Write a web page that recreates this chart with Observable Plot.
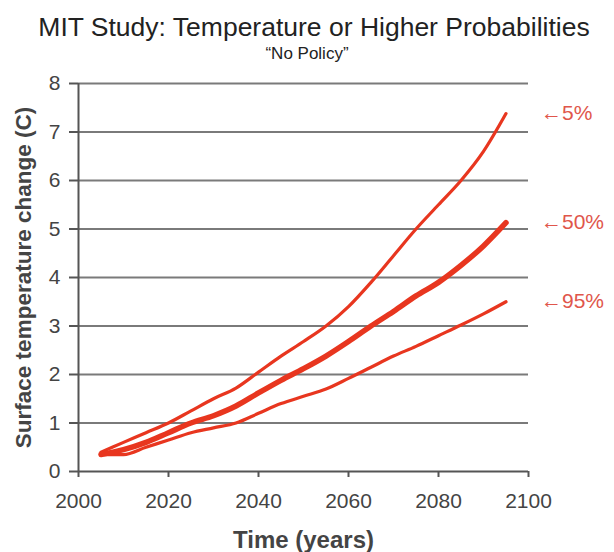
<!DOCTYPE html>
<html>
<head>
<meta charset="utf-8">
<script src="https://cdn.jsdelivr.net/npm/d3@7"></script>
<script src="https://cdn.jsdelivr.net/npm/@observablehq/plot@0.6"></script>
<style>
  html, body { margin: 0; padding: 0; background: #fff; }
  body { width: 614px; height: 552px; overflow: hidden; font-family: "Liberation Sans", Arial, sans-serif; }
  #title { height: 40px; line-height: 54px; text-align: center; font-size: 26.5px; color: #222; white-space: nowrap; padding-left: 14px; }
  #subtitle { height: 25px; line-height: 27px; text-align: center; font-size: 17px; color: #222; }
  #chart svg { display: block; }
  g[aria-label="y-axis tick label"], g[aria-label="x-axis tick label"] { font-size: 21px; }
  g[aria-label="y-axis label"] text { font-weight: bold; font-size: 22.5px; }
  g[aria-label="x-axis label"] text { font-weight: bold; font-size: 24px; }
</style>
</head>
<body>
<div id="title">MIT Study: Temperature or Higher Probabilities</div>
<div id="subtitle">“No Policy”</div>
<div id="chart"></div>
<script>
const years = [2005, 2010, 2015, 2020, 2025, 2030, 2035, 2040, 2045, 2050, 2055, 2060, 2065, 2070, 2075, 2080, 2085, 2090, 2095];
const p5  = [0.40, 0.60, 0.80, 1.00, 1.25, 1.50, 1.72, 2.05, 2.38, 2.68, 3.00, 3.40, 3.90, 4.45, 5.00, 5.50, 6.00, 6.60, 7.38];
const p50 = [0.35, 0.45, 0.60, 0.80, 1.00, 1.15, 1.35, 1.62, 1.88, 2.12, 2.38, 2.68, 3.00, 3.30, 3.62, 3.90, 4.25, 4.65, 5.13];
const p95 = [0.35, 0.35, 0.50, 0.65, 0.80, 0.90, 1.00, 1.20, 1.40, 1.55, 1.70, 1.92, 2.15, 2.38, 2.58, 2.80, 3.02, 3.25, 3.50];
const seriesLabels = ["←5%", "←50%", "←95%"];
const xTicks = [2000, 2020, 2040, 2060, 2080, 2100];
const yTicks = [0, 1, 2, 3, 4, 5, 6, 7, 8];

const toRows = (vals) => years.map((yr, i) => ({year: yr, value: vals[i]}));
const series = [p5, p50, p95];
const labels = series.map((vals, i) => ({year: years[years.length - 1], value: vals[vals.length - 1], label: seriesLabels[i]}));

const red = "#e8361f";
const chart = Plot.plot({
  width: 614,
  height: 487,
  marginTop: 18,
  marginBottom: 81,
  marginLeft: 78,
  marginRight: 86,
  style: {color: "#444", fontFamily: "'Liberation Sans', Arial, sans-serif", background: "#fff"},
  x: {domain: [2000, 2100], ticks: xTicks, tickFormat: d => String(d), label: "Time (years)", labelAnchor: "center", labelArrow: "none"},
  y: {domain: [0, 8], ticks: yTicks, label: "Surface temperature change (C)", labelAnchor: "center", labelArrow: "none"},
  marks: [
    Plot.ruleY(yTicks.filter(d => d > 0), {stroke: "#7a7a7a", strokeWidth: 2}),
    Plot.ruleY([0], {stroke: "#555", strokeWidth: 2}),
    Plot.ruleX([2000], {stroke: "#555", strokeWidth: 2}),
    Plot.axisX({ticks: xTicks, tickFormat: d => String(d), tickSize: 6, tickPadding: 16, stroke: "#555", strokeWidth: 2, label: "Time (years)", labelAnchor: "center", labelOffset: 76, labelArrow: "none"}),
    Plot.axisY({ticks: yTicks, tickSize: 9, tickPadding: 9, stroke: "#555", strokeWidth: 2, label: "Surface temperature change (C)", labelAnchor: "center", labelOffset: 63, labelArrow: "none"}),
    Plot.line(toRows(p95), {x: "year", y: "value", stroke: red, strokeWidth: 3.2, curve: "monotone-x"}),
    Plot.line(toRows(p5), {x: "year", y: "value", stroke: red, strokeWidth: 3.2, curve: "monotone-x"}),
    Plot.line(toRows(p50), {x: "year", y: "value", stroke: red, strokeWidth: 5.5, curve: "monotone-x"}),
    Plot.text(labels, {x: "year", y: "value", text: "label", dx: 35, textAnchor: "start", fill: "#e0564b", fontSize: 21})
  ]
});
document.getElementById("chart").appendChild(chart);
</script>
</body>
</html>
